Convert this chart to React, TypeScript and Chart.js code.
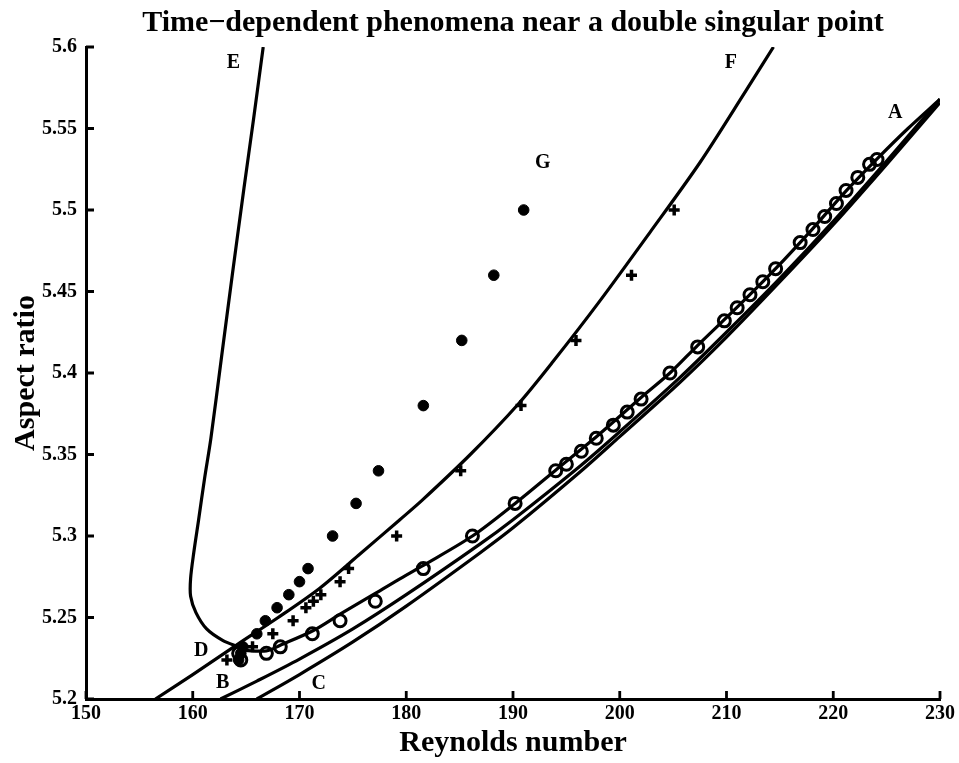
import { useEffect, useRef } from 'react';
import { Chart, registerables } from 'chart.js';

Chart.register(...registerables);

const FONT = '"Liberation Serif", "Times New Roman", Times, serif';

const TITLE = 'Time\u2212dependent phenomena near a double singular point';
const X_TITLE = 'Reynolds number';
const Y_TITLE = 'Aspect ratio';

const reynoldsTicks = [150, 160, 170, 180, 190, 200, 210, 220, 230];
const aspectTicks = [5.2, 5.25, 5.3, 5.35, 5.4, 5.45, 5.5, 5.55, 5.6];

// Curves: [Reynolds number, aspect ratio]
const curveA = [
  [164.4, 5.23], [166.9, 5.2295], [168.2, 5.233], [171.3, 5.242], [173.8, 5.252],
  [176.9, 5.264], [179.2, 5.273], [181.6, 5.282], [186.2, 5.3], [190.2, 5.32], [194.1, 5.341],
  [198, 5.362], [202, 5.385], [204.7, 5.4], [207.3, 5.417], [211.1, 5.441],
  [214.6, 5.464], [218, 5.488], [221.1, 5.511], [224.2, 5.532], [227, 5.55], [230, 5.568],
];
const curveB = [
  [162.6, 5.2], [166, 5.211], [170, 5.2245], [175, 5.243], [180, 5.264],
  [186.9, 5.295], [190, 5.31], [196.3, 5.343], [200, 5.364], [205.6, 5.397],
  [210, 5.425], [215, 5.458], [220, 5.493], [225, 5.53], [230, 5.568],
];
const curveC = [
  [166, 5.2], [170, 5.215], [175, 5.235], [180, 5.257], [186.9, 5.2896],
  [190, 5.305], [196.3, 5.3394], [200, 5.361], [205.6, 5.394], [210, 5.422],
  [215, 5.456], [220, 5.491], [225, 5.528], [230, 5.566],
];
const curveDF = [
  [156.5, 5.2], [160, 5.215], [164.3, 5.234], [168, 5.25], [171.9, 5.268],
  [175.5, 5.288], [179.4, 5.31], [181.5, 5.322], [186, 5.35], [190.5, 5.381],
  [193.75, 5.407], [198, 5.443], [202.8, 5.486], [207.5, 5.529], [211.9, 5.574], [214.4, 5.6],
];
const curveE = [
  [166.6, 5.6], [165.7, 5.556], [164.8, 5.5135], [163.7, 5.46], [162.7, 5.41],
  [161.7, 5.36], [161.1, 5.335], [160.55, 5.31], [160.1, 5.29], [159.8, 5.274],
  [159.8, 5.263], [160.3, 5.253], [161.3, 5.243], [162.8, 5.236], [164.3, 5.232],
];

// Markers
const openCircles = [
  [164.5, 5.224], [164.3, 5.228], [166.9, 5.228], [168.2, 5.232], [171.2, 5.24],
  [173.8, 5.248], [177.1, 5.26], [181.6, 5.28], [186.2, 5.3], [190.2, 5.32],
  [194.0, 5.34], [195.0, 5.344], [196.4, 5.352], [197.8, 5.36], [199.4, 5.368],
  [200.7, 5.376], [202.0, 5.384], [204.7, 5.4], [207.3, 5.416], [209.8, 5.432],
  [211.0, 5.44], [212.2, 5.448], [213.4, 5.456], [214.6, 5.464], [216.9, 5.48],
  [218.1, 5.488], [219.2, 5.496], [220.3, 5.504], [221.2, 5.512], [222.3, 5.52],
  [223.4, 5.528], [224.1, 5.531],
];
const filledDots = [
  [164.3, 5.224], [164.5, 5.228], [164.7, 5.232], [166.0, 5.24], [166.8, 5.248],
  [167.9, 5.256], [169.0, 5.264], [170.0, 5.272], [170.8, 5.28], [173.1, 5.3],
  [175.3, 5.32], [177.4, 5.34], [181.6, 5.38], [185.2, 5.42], [188.2, 5.46], [191.0, 5.5],
];
const plusMarks = [
  [163.2, 5.224], [165.6, 5.232], [167.5, 5.24], [169.4, 5.248], [170.6, 5.256],
  [171.3, 5.26], [172.0, 5.264], [173.8, 5.272], [174.6, 5.28], [179.1, 5.3],
  [185.1, 5.34], [190.75, 5.38], [195.9, 5.42], [201.1, 5.46], [205.1, 5.5],
];

// Curve labels: [text, Reynolds number, aspect ratio]
const curveLabels: [string, number, number][] = [
  ['E', 163.8, 5.59], ['F', 210.4, 5.59], ['A', 225.8, 5.5595], ['G', 192.8, 5.529],
  ['D', 160.8, 5.2294], ['B', 162.8, 5.2098], ['C', 171.8, 5.2092],
];

const toPts = (arr: number[][]) => arr.map(([x, y]) => ({ x, y }));

const curve = (arr: number[][]) => ({
  data: toPts(arr),
  showLine: true,
  borderColor: '#000',
  borderWidth: 3.2,
  pointRadius: 0,
  tension: 0.3,
  fill: false,
});

const decorPlugin = {
  id: 'decor',
  afterDraw(chart: any) {
    const { ctx, chartArea, scales } = chart;
    const xs = scales.x;
    const ys = scales.y;
    ctx.save();
    ctx.strokeStyle = '#000';
    ctx.lineWidth = 2.8;
    ctx.beginPath();
    xs.ticks.forEach((t: any) => {
      const px = xs.getPixelForValue(t.value);
      ctx.moveTo(px, chartArea.bottom);
      ctx.lineTo(px, chartArea.bottom - 8);
    });
    ys.ticks.forEach((t: any) => {
      const py = ys.getPixelForValue(t.value);
      ctx.moveTo(chartArea.left, py);
      ctx.lineTo(chartArea.left + 8, py);
    });
    ctx.stroke();
    ctx.fillStyle = '#000';
    ctx.font = `bold 20px ${FONT}`;
    ctx.textAlign = 'center';
    ctx.textBaseline = 'middle';
    curveLabels.forEach(([txt, x, y]) => {
      ctx.fillText(txt, xs.getPixelForValue(x), ys.getPixelForValue(y));
    });
    ctx.restore();
  },
};

export default function App() {
  const ref = useRef<HTMLCanvasElement>(null);
  useEffect(() => {
    if (!ref.current) return;
    const chart = new Chart(ref.current, {
      type: 'scatter',
      data: {
        datasets: [
          curve(curveA) as any,
          curve(curveB) as any,
          curve(curveC) as any,
          curve(curveDF) as any,
          curve(curveE) as any,
          {
            data: toPts(openCircles),
            pointStyle: 'circle',
            pointRadius: 6,
            borderWidth: 3,
            borderColor: '#000',
            backgroundColor: 'rgba(0,0,0,0)',
            showLine: false,
          },
          {
            data: toPts(filledDots),
            pointStyle: 'circle',
            pointRadius: 5.3,
            borderWidth: 1,
            borderColor: '#000',
            backgroundColor: '#000',
            showLine: false,
          },
          {
            data: toPts(plusMarks),
            pointStyle: 'cross',
            pointRadius: 5.5,
            borderWidth: 3.5,
            borderColor: '#000',
            backgroundColor: '#000',
            showLine: false,
          },
        ],
      },
      options: {
        animation: false,
        responsive: true,
        maintainAspectRatio: false,
        events: [],
        layout: { padding: { left: 0, right: 19, top: 0, bottom: 0 } },
        plugins: {
          legend: { display: false },
          tooltip: { enabled: false },
          title: {
            display: true,
            text: TITLE,
            fullSize: false,
            color: '#000',
            font: { family: FONT, size: 30, weight: 'bold', lineHeight: 1.2 },
            padding: { top: 5, bottom: 6 },
          },
        },
        scales: {
          x: {
            type: 'linear',
            min: 150,
            max: 230,
            afterBuildTicks: (s: any) => {
              s.ticks = reynoldsTicks.map((v) => ({ value: v }));
            },
            afterFit: (s: any) => {
              s.height = 64;
            },
            grid: { display: false, drawTicks: false },
            border: { display: true, color: '#000', width: 3 },
            ticks: {
              autoSkip: false,
              maxRotation: 0,
              padding: 3,
              color: '#000',
              font: { family: FONT, size: 20, weight: 'bold' },
              callback: (v: any) => String(v),
            },
            title: {
              display: true,
              text: X_TITLE,
              color: '#000',
              font: { family: FONT, size: 30, weight: 'bold', lineHeight: 1.2 },
              padding: { top: 0, bottom: 2 },
            },
          },
          y: {
            type: 'linear',
            min: 5.2,
            max: 5.6,
            afterBuildTicks: (s: any) => {
              s.ticks = aspectTicks.map((v) => ({ value: v }));
            },
            afterFit: (s: any) => {
              s.width = 86;
            },
            grid: { display: false, drawTicks: false },
            border: { display: true, color: '#000', width: 3 },
            ticks: {
              autoSkip: false,
              padding: 9,
              color: '#000',
              font: { family: FONT, size: 20, weight: 'bold' },
              callback: (v: any) => String(+Number(v).toFixed(2)),
            },
            title: {
              display: true,
              text: Y_TITLE,
              color: '#000',
              font: { family: FONT, size: 30, weight: 'bold', lineHeight: 1.2 },
              padding: { top: 8, bottom: 0 },
            },
          },
        },
      },
      plugins: [decorPlugin],
    });
    return () => chart.destroy();
  }, []);

  return (
    <div style={{ position: 'fixed', left: 0, top: 0, width: 959, height: 763, background: '#fff' }}>
      <canvas ref={ref} />
    </div>
  );
}
